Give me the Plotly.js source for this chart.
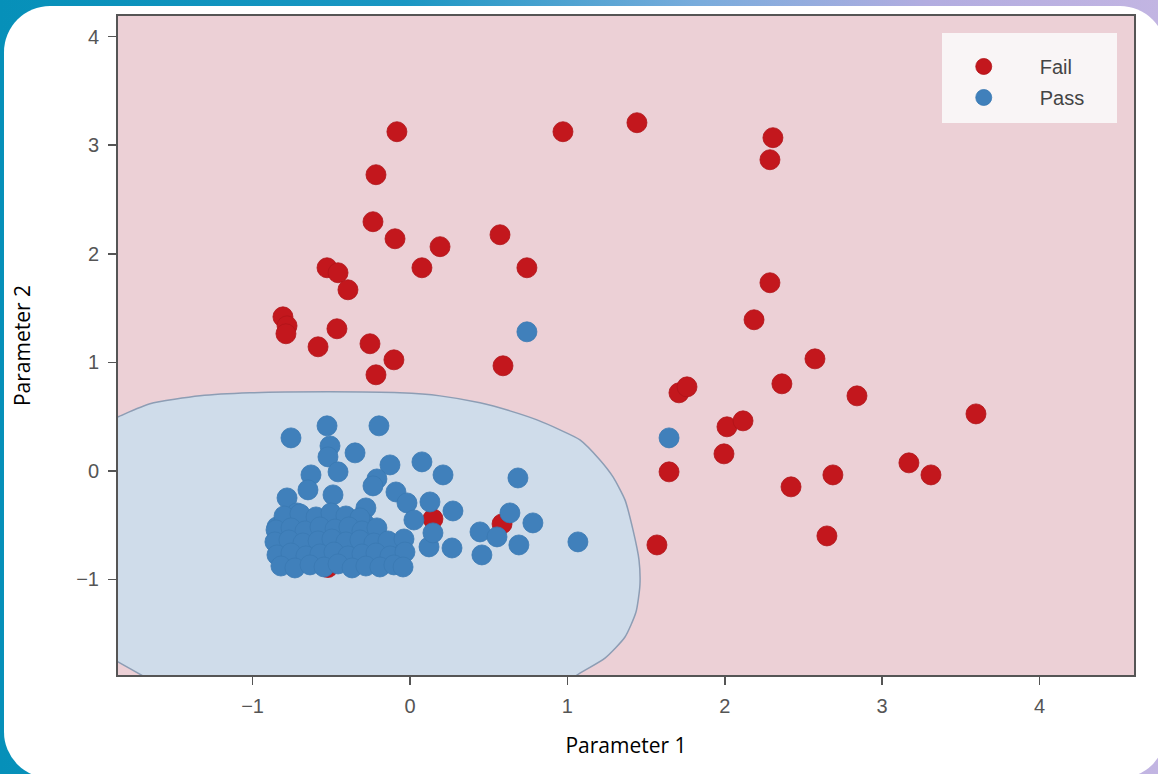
<!DOCTYPE html>
<html>
<head>
<meta charset="utf-8">
<script src="https://cdn.plot.ly/plotly-3.0.1.min.js"></script>
<style>
  html, body { margin:0; padding:0; width:1158px; height:774px; overflow:hidden;
    background: linear-gradient(90deg, #0690b9 0%, #1a97c3 35%, #78acdc 60%, #b2ade0 80%, #c2b5e2 100%); }
  #card { position:absolute; left:4px; top:6px; width:1162px; height:772px; background:#ffffff; border-radius:46px; }
  #chart { position:absolute; left:0; top:0; width:1158px; height:774px; }
</style>
</head>
<body>
<div id="card"></div>
<div id="chart"></div>
<script>
// Fail (red) samples
const failX = [-0.083, 0.972, 1.442, 2.306, 2.287, -0.216, -0.235, -0.095, 0.191, 0.076,
  0.572, 0.743, -0.527, -0.457, -0.394, -0.807, -0.781, -0.788, -0.464, -0.584,
  -0.254, -0.102, -0.216, 0.591, 2.287, 2.186, 2.573, 2.363, 2.840, 3.596,
  1.709, 1.760, 2.014, 2.116, 1.995, 1.646, 2.421, 2.687, 3.170, 3.310,
  2.649, 1.569, 0.146, 0.585, -0.521];
const failY = [3.124, 3.124, 3.207, 3.069, 2.866, 2.728, 2.295, 2.138, 2.065, 1.871,
  2.175, 1.871, 1.871, 1.825, 1.668, 1.419, 1.336, 1.263, 1.309, 1.143,
  1.171, 1.023, 0.885, 0.968, 1.733, 1.392, 1.032, 0.802, 0.691, 0.525,
  0.719, 0.774, 0.406, 0.461, 0.157, -0.009, -0.147, -0.037, 0.074, -0.037,
  -0.599, -0.682, -0.442, -0.488, -0.890];

// Pass (blue) samples
const passX = [-0.756, -0.527, -0.197, -0.349, -0.508, -0.521, -0.457, -0.629, -0.127, 0.076,
  0.210, 0.686, -0.210, -0.235, -0.489, -0.781, -0.648, -0.089, -0.019, 0.127,
  -0.280, 0.273, 0.635, 0.781, 0.445, 0.553, 0.692, 0.457, 1.067, 0.121,
  0.267, 0.146, 0.743, 1.646, 0.025, -0.064, -0.076, -0.292, -0.718, -0.845,
  -0.800, -0.699, -0.597, -0.502, -0.407, -0.318,
  -0.851, -0.756, -0.667, -0.572, -0.476, -0.388, -0.305, -0.210,
  -0.858, -0.769, -0.680, -0.584, -0.496, -0.407, -0.318, -0.229, -0.140, -0.038,
  -0.845, -0.756, -0.661, -0.572, -0.483, -0.394, -0.305, -0.216, -0.127, -0.032,
  -0.820, -0.731, -0.635, -0.546, -0.457, -0.368, -0.280, -0.191, -0.102, -0.044];
const passY = [0.304, 0.415, 0.415, 0.166, 0.230, 0.129, -0.009, -0.037, 0.055, 0.083,
  -0.037, -0.065, -0.074, -0.138, -0.221, -0.249, -0.175, -0.194, -0.295, -0.286,
  -0.341, -0.369, -0.387, -0.479, -0.562, -0.608, -0.682, -0.774, -0.654, -0.700,
  -0.710, -0.571, 1.281, 0.304, -0.452, -0.820, -0.728, -0.479, -0.387, -0.516,
  -0.415, -0.396, -0.424, -0.387, -0.415, -0.433,
  -0.544, -0.525, -0.553, -0.516, -0.535, -0.516, -0.553, -0.525,
  -0.654, -0.636, -0.664, -0.645, -0.627, -0.654, -0.636, -0.664, -0.645, -0.627,
  -0.774, -0.756, -0.783, -0.765, -0.747, -0.783, -0.765, -0.756, -0.783, -0.747,
  -0.876, -0.894, -0.866, -0.885, -0.857, -0.894, -0.876, -0.885, -0.866, -0.885];

// Decision boundary (Pass region), main curve and lower-left corner curve
const boundaryX = [-1.95, -1.855, -1.652, -1.334, -1.017, -0.508, -0.064, 0.191, 0.445, 0.635,
  0.807, 0.953, 1.080, 1.207, 1.290, 1.366, 1.417, 1.455, 1.461, 1.436,
  1.366, 1.239, 1.080, 0.980];
const boundaryY = [0.44, 0.498, 0.618, 0.691, 0.719, 0.728, 0.719, 0.691, 0.627, 0.553,
  0.470, 0.378, 0.286, 0.101, -0.055, -0.267, -0.544, -0.820, -1.051, -1.300,
  -1.530, -1.724, -1.862, -1.950];
const cornerX = [-1.621, -1.696, -1.855, -1.950];
const cornerY = [-1.950, -1.889, -1.760, -1.683];

const xTicks = [-1, 0, 1, 2, 3, 4];
const yTicks = [-1, 0, 1, 2, 3, 4];

const regionX = boundaryX.concat(cornerX);
const regionY = boundaryY.concat(cornerY);

const tickFont = {family: 'Liberation Sans, Arial, sans-serif', size: 20, color: '#555555'};
const titleFont = {family: 'Open Sans, sans-serif', size: 21, color: '#000000'};

const traces = [
  {x: regionX, y: regionY, type: 'scatter', mode: 'lines', fill: 'toself',
   fillcolor: '#cfdcea', line: {color: '#8d9db4', width: 1.5, shape: 'spline', smoothing: 0.6},
   hoverinfo: 'skip', showlegend: false},
  {x: failX, y: failY, type: 'scatter', mode: 'markers', name: 'Fail', legendgroup: 'f',
   marker: {color: '#c3171d', size: 20, line: {color: '#b01419', width: 0.8}}},
  {x: passX, y: passY, type: 'scatter', mode: 'markers', name: 'Pass', legendgroup: 'p',
   marker: {color: '#4080bb', size: 20, line: {color: '#3a78b2', width: 0.8}}}
];

const layout = {
  width: 1158, height: 774,
  margin: {l: 118, r: 24, t: 16, b: 99},
  paper_bgcolor: 'rgba(0,0,0,0)',
  plot_bgcolor: '#ecd0d6',
  xaxis: {range: [-1.855, 4.6], tickvals: xTicks, showgrid: false, zeroline: false,
    showline: true, mirror: true, linecolor: '#555555', linewidth: 2,
    ticks: 'outside', ticklen: 8, tickwidth: 1.5, tickcolor: '#555555',
    tickfont: tickFont, ticklabelstandoff: 4, automargin: false,
    title: {text: 'Parameter 1', font: titleFont, standoff: 22}},
  yaxis: {range: [-1.88, 4.19], tickvals: yTicks, showgrid: false, zeroline: false,
    showline: true, mirror: true, linecolor: '#555555', linewidth: 2,
    ticks: 'outside', ticklen: 8, tickwidth: 1.5, tickcolor: '#555555',
    tickfont: tickFont, ticklabelstandoff: 5, automargin: false,
    title: {text: 'Parameter 2', font: titleFont, standoff: 40}},
  shapes: [
    {type: 'rect', xref: 'paper', yref: 'paper', layer: 'above',
     x0: (942 - 118) / 1016, x1: (1117 - 118) / 1016,
     y0: (675 - 123) / 659, y1: (675 - 33) / 659,
     fillcolor: 'rgba(250,247,248,0.92)', line: {width: 0}}
  ],
  legend: {x: 0.797, xanchor: 'left', y: 0.953, yanchor: 'top',
    bgcolor: 'rgba(0,0,0,0)', borderwidth: 0, itemwidth: 102, tracegroupgap: 2,
    font: {family: 'Liberation Sans, Arial, sans-serif', size: 20, color: '#444444'}},
  showlegend: true
};

Plotly.newPlot('chart', traces, layout, {displayModeBar: false, staticPlot: true});
</script>
</body>
</html>
